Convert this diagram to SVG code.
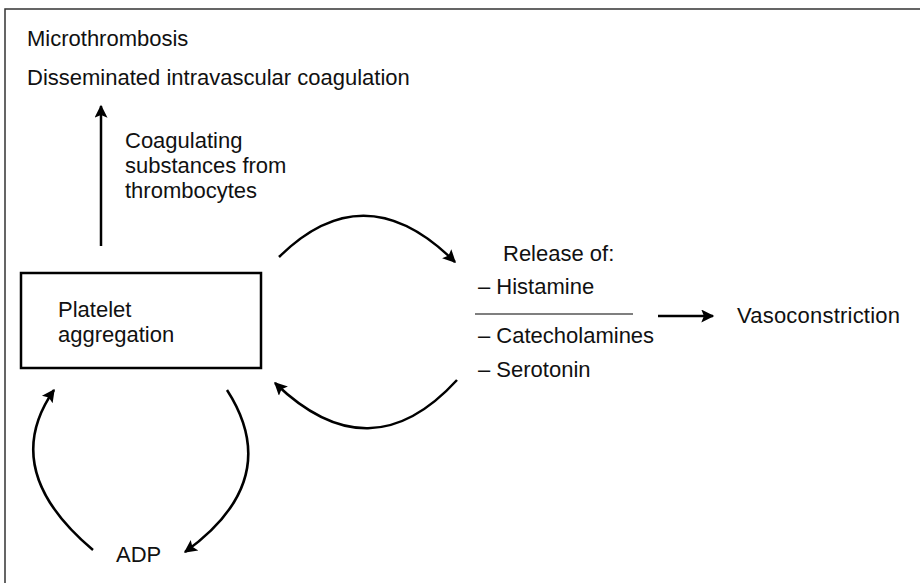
<svg xmlns="http://www.w3.org/2000/svg" width="920" height="583" viewBox="0 0 920 583">
<defs>
<marker id="ahb" viewBox="0 0 10 10" refX="9" refY="5" markerWidth="16" markerHeight="13" markerUnits="userSpaceOnUse" orient="auto">
<path d="M0,0 L10,5 L0,10 L2,5 Z" fill="#000"/>
</marker>
</defs>
<style>
text{font-family:"Liberation Sans",Arial,sans-serif;font-size:22px;fill:#111}
.ln{fill:none;stroke:#000;stroke-width:2.5}
</style>
<rect width="920" height="583" fill="#fff"/>
<path d="M5,583 V9 H920" fill="none" stroke="#333" stroke-width="1.5"/>
<g id="microthrombosis"><text x="27" y="46">Microthrombosis</text></g>
<g id="dic"><text x="27" y="85">Disseminated intravascular coagulation</text></g>
<g id="coag-label"><text x="125" y="148">Coagulating</text><text x="125" y="173">substances from</text><text x="125" y="198">thrombocytes</text></g>
<g id="platelet"><rect x="21" y="273" width="240" height="95" fill="none" stroke="#000" stroke-width="2.5"/><text x="58" y="317">Platelet</text><text x="58" y="342">aggregation</text></g>
<g id="adp"><text x="116" y="562">ADP</text></g>
<g id="release"><text x="503" y="261">Release of:</text><text x="478" y="294">– Histamine</text><line x1="475" y1="314" x2="633" y2="314" stroke="#000" stroke-width="1.2"/><text x="478" y="343">– Catecholamines</text><text x="478" y="377">– Serotonin</text></g>
<g id="vasoconstriction"><text x="737" y="323" textLength="163">Vasoconstriction</text></g>
<g id="connectors">
<line class="ln" x1="101" y1="246" x2="101" y2="106" marker-end="url(#ahb)"/>
<path class="ln" d="M279,257 Q365,172 455,262" marker-end="url(#ahb)"/>
<path class="ln" d="M457,380 Q370,475 275,383" marker-end="url(#ahb)"/>
<path class="ln" d="M93,550 Q-2,470 54,390" marker-end="url(#ahb)"/>
<path class="ln" d="M227,390 Q285,480 185,552" marker-end="url(#ahb)"/>
<line class="ln" x1="658" y1="316" x2="713" y2="316" marker-end="url(#ahb)"/>
</g>
</svg>
